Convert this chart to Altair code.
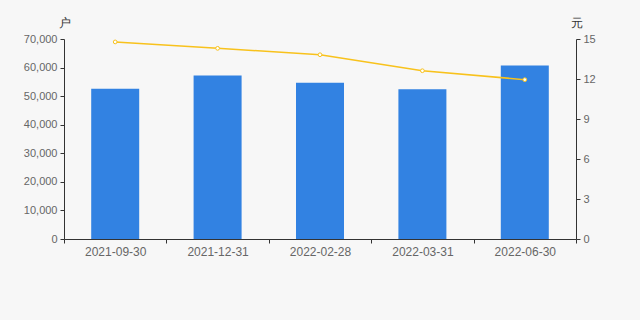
import altair as alt
import pandas as pd

dates = ["2021-09-30", "2021-12-31", "2022-02-28", "2022-03-31", "2022-06-30"]
holders = [52600, 57200, 54700, 52400, 60700]
prices = [14.78, 14.30, 13.82, 12.62, 11.95]
left_ticks = [0, 10000, 20000, 30000, 40000, 50000, 60000, 70000]
right_ticks = [0, 3, 6, 9, 12, 15]

df = pd.DataFrame({"date": dates, "holders": holders, "price": prices})

FONT = "Liberation Sans"
AXIS_C = "#333333"
LABEL_C = "#666666"
BAR_C = "#3282e2"
LINE_C = "#f8c21c"

base = alt.Chart(df).encode(
    x=alt.X(
        "date:N",
        sort=None,
        scale=alt.Scale(paddingInner=0, paddingOuter=0),
        axis=alt.Axis(
            title=None,
            labelAngle=0,
            tickBand="extent",
            tickSize=4,
            labelPadding=3,
            labelFontSize=12,
        ),
    )
)

bars = base.mark_bar(size=48, color=BAR_C).encode(
    y=alt.Y(
        "holders:Q",
        scale=alt.Scale(domain=[0, 70000], nice=False),
        axis=alt.Axis(
            title="户",
            orient="left",
            values=left_ticks,
            labelExpr="format(datum.value, ',')",
            grid=False,
            tickSize=4,
            labelPadding=3,
            titleAngle=0,
            titleX=0,
            titleY=-17,
            titleAlign="center",
            titleBaseline="middle",
        ),
    )
)

line = base.mark_line(
    color=LINE_C,
    strokeWidth=1.5,
    point=alt.OverlayMarkDef(filled=True, fill="white", stroke=LINE_C, strokeWidth=1, size=14),
).encode(
    y=alt.Y(
        "price:Q",
        scale=alt.Scale(domain=[0, 15], nice=False),
        axis=alt.Axis(
            title="元",
            orient="right",
            values=right_ticks,
            grid=False,
            tickSize=4,
            labelPadding=3,
            titleAngle=0,
            titleX=0,
            titleY=-17,
            titleAlign="center",
            titleBaseline="middle",
        ),
    )
)

chart = (
    alt.layer(bars, line)
    .resolve_scale(y="independent")
    .properties(
        width=512,
        height=200,
        background="#f7f7f7",
        padding={"left": 64, "top": 39, "right": 64, "bottom": 81},
        autosize=alt.AutoSizeParams(type="none"),
    )
    .configure_view(stroke=None)
    .configure_axis(
        domainColor=AXIS_C,
        tickColor=AXIS_C,
        labelColor=LABEL_C,
        labelFont=FONT,
        labelFontSize=11,
        titleFont=FONT,
        titleFontSize=12,
        titleFontWeight="normal",
        titleColor=AXIS_C,
    )
)

chart.save("out.html", embed_options={"renderer": "svg", "actions": False})
